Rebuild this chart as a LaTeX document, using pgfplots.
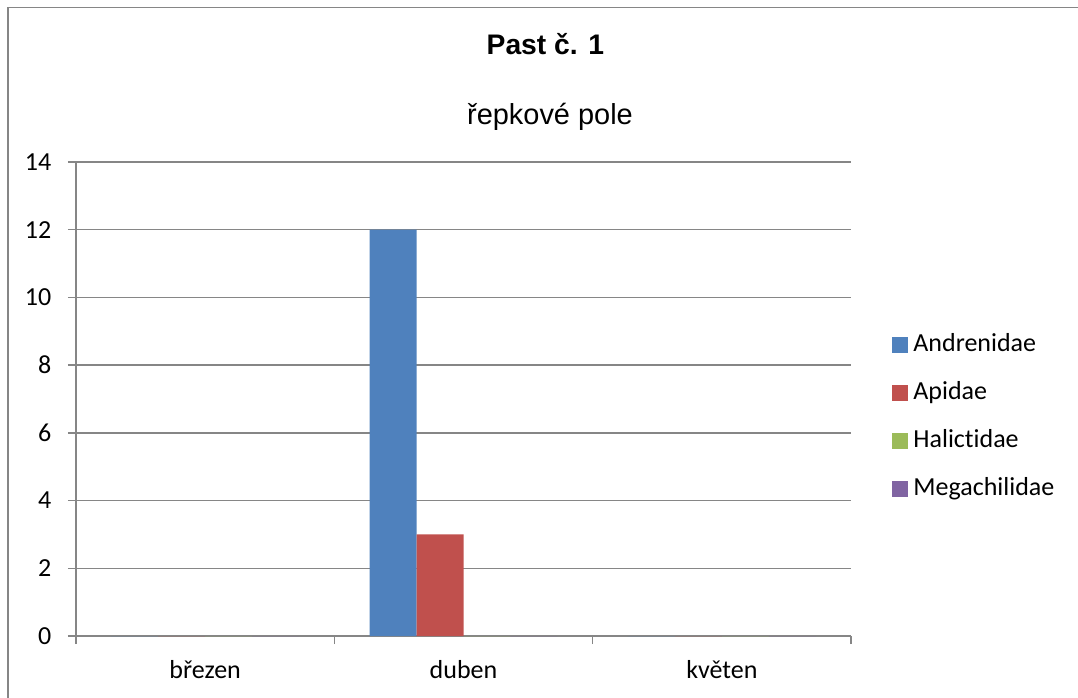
\documentclass[border=0pt]{standalone}
\usepackage{fontspec}
\usepackage{pgfplots}
\pgfplotsset{compat=1.18}
\setmainfont[Ligatures=NoCommon]{Carlito}
\newfontfamily\arial{Liberation Sans}
\definecolor{cA}{HTML}{4F81BD}
\definecolor{cB}{HTML}{C0504D}
\definecolor{cC}{HTML}{9BBB59}
\definecolor{cD}{HTML}{8064A2}
\definecolor{axgray}{HTML}{868686}
\begin{document}
\begin{tikzpicture}
\path[use as bounding box] (0pt,0pt) rectangle (808.5pt,-522.75pt);
\draw[axgray, line width=1.4pt] (6pt,-530pt) -- (6pt,-5.6pt) -- (815pt,-5.6pt);
\node[anchor=base, inner sep=0pt, font=\arial\fontsize{21.2}{24}\selectfont\bfseries] at (409pt,-40.7pt) {Past č. 1};
\node[anchor=base, inner sep=0pt, font=\arial\fontsize{21.7}{24}\selectfont] at (412.5pt,-93pt) {řepkové pole};
\begin{axis}[
  at={(57pt,-477pt)}, anchor=south west,
  scale only axis, width=581.25pt, height=355.5pt,
  xmin=-0.5, xmax=2.5, ymin=0, ymax=14,
  ybar=0pt, bar width=0.1818,
  axis x line*=bottom, axis y line*=left,
  axis line style={-, draw=axgray, line width=1pt},
  xtick={0,1,2}, xticklabels={březen,duben,květen},
  major x tick style={draw=none},
  extra x ticks={-0.5,0.5,1.5,2.5}, extra x tick labels={},
  extra x tick style={grid=none, major tick length=6pt, tick align=outside, major x tick style={draw=axgray, line width=1pt}},
  ytick={0,2,...,14},
  ymajorgrids, major grid style={draw=axgray, line width=1pt},
  y tick style={draw=axgray, line width=1pt},
  tick align=outside, major tick length=6pt,
  /pgf/number format/assume math mode=true,
  ticklabel style={font=\fontsize{19.5}{22}\selectfont, inner sep=0pt},
  yticklabel style={anchor=east, xshift=-12.3pt},
  xticklabel style={anchor=base, yshift=-25.5pt},
  legend style={at={(axis description cs:1.0475,0.462)}, anchor=west, draw=none,
    font=\fontsize{19.5}{22}\selectfont,
    nodes={inner sep=1pt, text height=13pt, text depth=4pt},
    row sep=17pt},
  legend cell align=left,
  legend image code/.code={\fill[#1] (0pt,-6pt) rectangle (12pt,6pt); \path (15pt,0pt);},
]
\addplot[fill=cA, draw=none, bar shift=-0.2727] coordinates {(0,0) (1,12) (2,0)};
\addplot[fill=cB, draw=none, bar shift=-0.0909] coordinates {(0,0) (1,3) (2,0)};
\addplot[fill=cC, draw=none, bar shift=0.0909] coordinates {(0,0) (1,0) (2,0)};
\addplot[fill=cD, draw=none, bar shift=0.2727] coordinates {(0,0) (1,0) (2,0)};
\legend{Andrenidae,Apidae,Halictidae,Megachilidae}
\end{axis}
\end{tikzpicture}
\end{document}
